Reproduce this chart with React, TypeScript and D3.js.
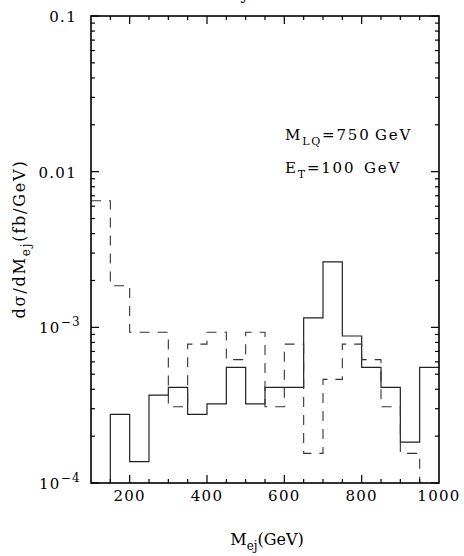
import * as d3 from "d3";
import { useEffect, useRef } from "react";

// bin edges, 50 GeV wide
const binStarts = [100, 150, 200, 250, 300, 350, 400, 450, 500, 550, 600, 650, 700, 750, 800, 850, 900, 950];
const binEnd = 1000;

// solid histogram (values below 1e-4 are off the plot)
const solidValues = [
  5e-5, 2.76e-4, 1.37e-4, 3.67e-4, 4.12e-4, 2.76e-4, 3.22e-4, 5.53e-4, 3.22e-4,
  4.12e-4, 4.12e-4, 1.15e-3, 2.63e-3, 8.8e-4, 5.53e-4, 4.12e-4, 1.83e-4, 5.53e-4,
];

// dashed histogram
const dashedValues = [
  6.5e-3, 1.85e-3, 9.3e-4, 9.3e-4, 3.09e-4, 7.8e-4, 9.3e-4, 6.2e-4, 9.3e-4,
  3.09e-4, 7.8e-4, 1.55e-4, 4.63e-4, 7.8e-4, 6.2e-4, 3.09e-4, 1.55e-4, 5e-5,
];

const xTickLabels = [200, 400, 600, 800, 1000];
const yTickLabels = [
  { v: 0.1, base: "0.1", exp: "" },
  { v: 0.01, base: "0.01", exp: "" },
  { v: 1e-3, base: "10", exp: "\u22123" },
  { v: 1e-4, base: "10", exp: "\u22124" },
];

const App = () => {
  const width = 464;
  const height = 556;
  const margin = { top: 16, bottom: 73, left: 91, right: 25 };
  const ref = useRef(null);

  useEffect(() => {
    if (!ref.current) return;
    const svg = d3.select(ref.current);
    svg.selectAll("*").remove();

    const font = "'DejaVu Serif', serif";
    const pw = width - margin.left - margin.right;
    const ph = height - margin.top - margin.bottom;

    const x = d3.scaleLinear([100, 1000], [0, pw]);
    const y = d3.scaleLog([1e-4, 0.1], [ph, 0]);

    const g = svg.append("g").attr("transform", `translate(${margin.left},${margin.top})`);

    g.append("clipPath").attr("id", "plotclip")
      .append("rect").attr("width", pw).attr("height", ph);

    // cut-off title descender above the frame
    svg.append("text")
      .attr("x", 245).attr("y", -1)
      .attr("text-anchor", "middle")
      .attr("font-family", font).attr("font-size", 16)
      .text("y");

    const stepLine = d3.line<[number, number]>()
      .x((d) => x(d[0]))
      .y((d) => y(d[1]))
      .curve(d3.curveStepAfter);

    const toPts = (vals: number[]): [number, number][] => {
      const pts: [number, number][] = binStarts.map((b, i) => [b, vals[i]]);
      pts.push([binEnd, vals[vals.length - 1]]);
      return pts;
    };

    const hist = g.append("g").attr("clip-path", "url(#plotclip)");
    hist.append("path")
      .attr("d", stepLine(toPts(solidValues)))
      .attr("fill", "none")
      .attr("stroke", "#222")
      .attr("stroke-width", 1.2);
    hist.append("path")
      .attr("d", stepLine(toPts(dashedValues)))
      .attr("fill", "none")
      .attr("stroke", "#333")
      .attr("stroke-width", 1.1)
      .attr("stroke-dasharray", "10,8");

    // ticks on all four sides, inward
    const ticks = g.append("g").attr("stroke", "#000").attr("stroke-width", 1.2);
    d3.range(150, 1000, 50).forEach((v) => {
      const len = v % 200 === 0 ? 8 : 4;
      ticks.append("line").attr("x1", x(v)).attr("x2", x(v)).attr("y1", ph).attr("y2", ph - len);
      ticks.append("line").attr("x1", x(v)).attr("x2", x(v)).attr("y1", 0).attr("y2", len);
    });
    y.ticks().forEach((v) => {
      const major = Math.abs(Math.log10(v) - Math.round(Math.log10(v))) < 1e-6;
      const len = major ? 8 : 4;
      ticks.append("line").attr("x1", 0).attr("x2", len).attr("y1", y(v)).attr("y2", y(v));
      ticks.append("line").attr("x1", pw).attr("x2", pw - len).attr("y1", y(v)).attr("y2", y(v));
    });

    g.append("rect")
      .attr("width", pw).attr("height", ph)
      .attr("fill", "none").attr("stroke", "#000").attr("stroke-width", 1.6);

    // x tick labels
    g.append("g").selectAll("text").data(xTickLabels).join("text")
      .attr("x", (d) => x(d)).attr("y", ph + 18)
      .attr("text-anchor", "middle")
      .attr("font-family", font).attr("font-size", 15)
      .attr("letter-spacing", 1.3)
      .text((d) => d);

    // y tick labels
    yTickLabels.forEach((t) => {
      const txt = g.append("text")
        .attr("x", t.exp ? -10 : -14).attr("y", y(t.v) + 6)
        .attr("text-anchor", "end")
        .attr("font-family", font).attr("font-size", 15)
        .attr("letter-spacing", 1.3);
      txt.append("tspan").text(t.base);
      if (t.exp) {
        txt.append("tspan").attr("dy", -7).attr("font-size", 12).text(t.exp);
      }
    });

    // axis titles
    const xt = svg.append("text")
      .attr("x", 267).attr("y", 545)
      .attr("text-anchor", "middle")
      .attr("font-family", font).attr("font-size", 16);
    xt.append("tspan").text("M");
    xt.append("tspan").attr("dy", 5).attr("font-size", 12).text("ej");
    xt.append("tspan").attr("dy", -5).text("(GeV)");

    const yt = svg.append("text")
      .attr("transform", "translate(25,239) rotate(-90)")
      .attr("text-anchor", "middle")
      .attr("font-family", font).attr("font-size", 16)
      .attr("letter-spacing", 1.8);
    yt.append("tspan").text("d\u03c3/dM");
    yt.append("tspan").attr("dy", 5).attr("font-size", 12).text("ej");
    yt.append("tspan").attr("dy", -5).text("(fb/GeV)");

    // annotation
    const a1 = svg.append("text")
      .attr("x", 285).attr("y", 140)
      .attr("font-family", font).attr("font-size", 15)
      .attr("letter-spacing", 1.8);
    a1.append("tspan").text("M");
    a1.append("tspan").attr("dy", 5).attr("font-size", 11).text("LQ");
    a1.append("tspan").attr("dy", -5).text("=750");
    a1.append("tspan").attr("x", 375).text("GeV");

    const a2 = svg.append("text")
      .attr("x", 285).attr("y", 173)
      .attr("font-family", font).attr("font-size", 15)
      .attr("letter-spacing", 1.8);
    a2.append("tspan").text("E");
    a2.append("tspan").attr("dy", 5).attr("font-size", 11).text("T");
    a2.append("tspan").attr("dy", -5).text("=100");
    a2.append("tspan").attr("x", 364).text("GeV");
  }, []);

  return (
    <svg
      width={width}
      height={height}
      ref={ref}
      style={{ position: "absolute", left: 0, top: 0, background: "white" }}
    ></svg>
  );
};

export default App;
